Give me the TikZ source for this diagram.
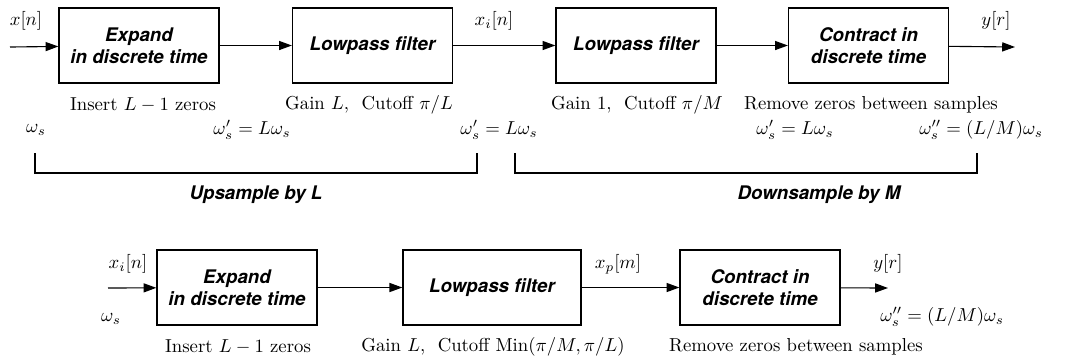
\documentclass[tikz,border=0pt]{standalone}
\usepackage{amsmath,amssymb}
\usepackage{fontspec}
\usepackage{tikz}
\usetikzlibrary{arrows.meta}
\newfontfamily\blockfont{TeX Gyre Heros}

\begin{document}
\begin{tikzpicture}[x=0.01875cm,y=-0.01875cm,every node/.style={font=\normalsize},
  blockbox/.style={draw,line width=0.7pt,minimum width=3cm,minimum height=1.41cm,
    align=center,inner sep=0pt,font=\blockfont\bfseries\itshape},
  sig/.style={line width=0.6pt,-{Triangle[length=2.4mm,width=1.7mm]}},
  brace/.style={line width=0.6pt}]
\useasboundingbox (0,0) rectangle (1067,360);
% top chain
\coordinate (inA) at (10,47);
\node[blockbox] (expandA) at (139,45.5) {Expand\\in discrete time};
\node[blockbox] (lowpassA) at (372.5,45.5) {Lowpass filter};
\node[blockbox] (lowpassB) at (636,45.5) {Lowpass filter};
\node[blockbox] (contractA) at (868.5,45.5) {Contract in\\discrete time};
\coordinate (outA) at (1015,47);
\draw[sig] (inA) -- (expandA);
\draw[sig] (expandA) -- (lowpassA);
\draw[sig] (lowpassA) -- (lowpassB);
\draw[sig] (lowpassB) -- (contractA);
\draw[sig] (contractA) -- (outA);
\node (xn) at (26,21) {$x[n]$};
\node (xiA) at (494,21) {$x_i[n]$};
\node (yrA) at (996,21) {$y[r]$};
\node (insA) at (143,105) {Insert $L-1$ zeros};
\node (gainA) at (369,105) {Gain $L,$\ \ Cutoff $\pi/L$};
\node (gainB) at (637,105) {Gain $1,$\ \ Cutoff $\pi/M$};
\node (remA) at (871,105) {Remove zeros between samples};
\node (wA) at (36,130) {$\omega_s$};
\node (wB) at (252,130) {$\omega'_s = L\omega_s$};
\node (wC) at (499,130) {$\omega'_s = L\omega_s$};
\node (wD) at (795,130) {$\omega'_s = L\omega_s$};
\node (wE) at (981,130) {$\omega''_s = (L/M)\omega_s$};
% brackets
\coordinate (upL) at (35,153);
\coordinate (upR) at (477,153);
\coordinate (dnL) at (515,153);
\coordinate (dnR) at (977,153);
\draw[brace] (upL) -- ++(0,20) -| (upR);
\draw[brace] (dnL) -- ++(0,20) -| (dnR);
\node[font=\blockfont\bfseries\itshape] (upsmp) at (256,195) {Upsample by L};
\node[font=\blockfont\bfseries\itshape] (dnsmp) at (819,195) {Downsample by M};
% bottom chain
\coordinate (inB) at (108,288);
\node[blockbox] (expandB) at (237,287.5) {Expand\\in discrete time};
\node[blockbox,minimum width=3.34cm] (lowpassC) at (492,287.5) {Lowpass filter};
\node[blockbox] (contractB) at (760,287.5) {Contract in\\discrete time};
\coordinate (outB) at (888,288);
\draw[sig] (inB) -- (expandB);
\draw[sig] (expandB) -- (lowpassC);
\draw[sig] (lowpassC) -- (contractB);
\draw[sig] (contractB) -- (outB);
\node (xiB) at (128,264) {$x_i[n]$};
\node (wF) at (111,319) {$\omega_s$};
\node (xpm) at (618,264) {$x_p[m]$};
\node (yrB) at (888,264) {$y[r]$};
\node (wG) at (942,317) {$\omega''_s = (L/M)\omega_s$};
\node (insB) at (238,347) {Insert $L-1$ zeros};
\node (gainC) at (493,347) {Gain $L,$\ \ Cutoff Min$(\pi/M,\pi/L)$};
\node (remB) at (796,347) {Remove zeros between samples};
\end{tikzpicture}
\end{document}
